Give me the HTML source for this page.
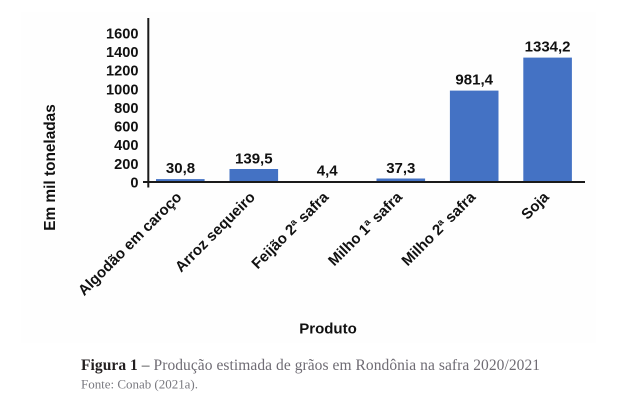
<!DOCTYPE html>
<html>
<head>
<meta charset="utf-8">
<style>
  html,body{margin:0;padding:0;background:#ffffff;}
  svg{display:block;}
  .b{font-family:"Liberation Sans",Arial,sans-serif;font-weight:bold;fill:#111;}
</style>
</head>
<body>
<svg width="636" height="419" viewBox="0 0 636 419" xmlns="http://www.w3.org/2000/svg">
  <rect x="0" y="0" width="636" height="419" fill="#ffffff"/>
  <rect x="21" y="12" width="575" height="331" fill="#fefefe"/>

  <!-- bars -->
  <g fill="#4472c4">
    <rect x="156" y="179.1" width="48.6" height="2.9"/>
    <rect x="229.5" y="169.0" width="48.6" height="13"/>
    <rect x="302.9" y="181.6" width="48.6" height="0.4"/>
    <rect x="376.5" y="178.5" width="48.6" height="3.5"/>
    <rect x="449.9" y="90.6" width="48.6" height="91.4"/>
    <rect x="523.3" y="57.6" width="48.6" height="124.4"/>
  </g>

  <!-- axes -->
  <g stroke="#1a1a1a" stroke-width="2" fill="none">
    <line x1="148.3" y1="18" x2="148.3" y2="187.5"/>
    <line x1="143" y1="182" x2="585" y2="182"/>
  </g>

  <!-- y tick labels -->
  <g class="b" font-size="14.6" text-anchor="end">
    <text x="138.5" y="38.5">1600</text>
    <text x="138.5" y="57.1">1400</text>
    <text x="138.5" y="75.7">1200</text>
    <text x="138.5" y="94.4">1000</text>
    <text x="138.5" y="113.0">800</text>
    <text x="138.5" y="131.6">600</text>
    <text x="138.5" y="150.2">400</text>
    <text x="138.5" y="168.9">200</text>
    <text x="138.5" y="187.5">0</text>
  </g>

  <!-- data labels -->
  <g class="b" font-size="15" text-anchor="middle">
    <text x="180.5" y="173">30,8</text>
    <text x="253.8" y="163.3">139,5</text>
    <text x="327.2" y="175.5">4,4</text>
    <text x="400.8" y="172.8">37,3</text>
    <text x="474.2" y="84.5">981,4</text>
    <text x="547.6" y="51.6">1334,2</text>
  </g>

  <!-- x category labels -->
  <g class="b" font-size="15" text-anchor="end">
    <text transform="translate(182.5,198) rotate(-45)">Algodão em caroço</text>
    <text transform="translate(256,198) rotate(-45)">Arroz sequeiro</text>
    <text transform="translate(329.4,198) rotate(-45)">Feijão 2ª safra</text>
    <text transform="translate(403,198) rotate(-45)">Milho 1ª safra</text>
    <text transform="translate(476.4,198) rotate(-45)">Milho 2ª safra</text>
    <text transform="translate(549.8,198) rotate(-45)">Soja</text>
  </g>

  <!-- axis titles -->
  <text class="b" font-size="15.4" text-anchor="middle" transform="translate(55,167.5) rotate(-90)">Em mil toneladas</text>
  <text class="b" font-size="15" text-anchor="middle" x="328" y="333.5">Produto</text>

  <!-- caption -->
  <text x="81" y="370" font-family="'Liberation Serif','Times New Roman',serif" font-size="15.5" textLength="459" lengthAdjust="spacing"><tspan font-weight="bold" fill="#231f20">Figura 1</tspan><tspan fill="#3a3a3c"> – </tspan><tspan fill="#6f6c74">Produção estimada de grãos em Rondônia na safra 2020/2021</tspan></text>
  <text x="81" y="388.3" font-family="'Liberation Serif','Times New Roman',serif" font-size="13" fill="#7a7a80" textLength="117" lengthAdjust="spacing">Fonte: Conab (2021a).</text>
</svg>
</body>
</html>
